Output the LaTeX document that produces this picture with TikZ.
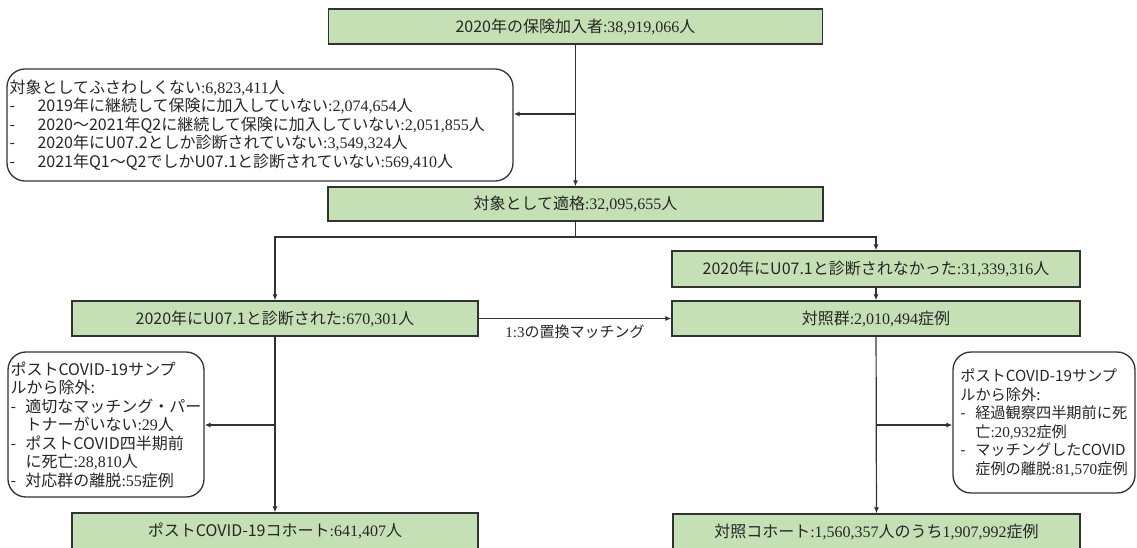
\documentclass[tikz,border=0pt]{standalone}
\usepackage{fontspec}
\setmainfont{Noto Sans CJK JP}
\newfontfamily\tmfont{Liberation Serif}
\usetikzlibrary{arrows.meta}
\definecolor{boxgreen}{RGB}{197,224,180}
\definecolor{ink}{RGB}{38,38,38}
\definecolor{edge}{RGB}{50,50,50}
\newcommand\tmn[1]{{\tmfont #1}}
\newcommand\itmA[1]{\makebox[28pt][l]{-}#1}
\newcommand\itmB[1]{\makebox[15pt][l]{-}#1}
\newcommand\contB[1]{\hspace*{15pt}#1}
\tikzset{
  gbox/.style={draw=edge, line width=1.3pt, fill=boxgreen, text=ink, inner sep=0pt,
    font=\fontsize{16}{19}\selectfont},
  xbox/.style={draw=edge, line width=1.3pt, rounded corners=18pt, fill=white, text=ink,
    align=left, inner sep=0pt, font=\fontsize{16}{18.5}\selectfont},
  arr/.style={draw=edge, line width=1.2pt, -{Latex[length=6pt,width=5pt]}},
  ln/.style={draw=edge, line width=1.2pt}
}
\begin{document}
\begin{tikzpicture}[x=1pt,y=-1pt]
\useasboundingbox (0,0) rectangle (1137,547);
% green boxes
\node[gbox, minimum width=494pt, minimum height=35pt] (top) at (575.5,26.5)
  {2020年の保険加入者\tmn{:38,919,066}人};
\node[gbox, minimum width=495pt, minimum height=34pt] (elig) at (575.5,204)
  {対象として適格\tmn{:32,095,655}人};
\node[gbox, minimum width=408pt, minimum height=36pt] (notdiag) at (876,269)
  {2020年にU07.1と診断されなかった\tmn{:31,339,316}人};
\node[gbox, minimum width=406pt, minimum height=35pt] (covid) at (275,318.5)
  {2020年にU07.1と診断された\tmn{:670,301}人};
\node[gbox, minimum width=408pt, minimum height=35pt] (ctrl) at (876,318.5)
  {対照群\tmn{:2,010,494}症例};
\node[gbox, minimum width=406pt, minimum height=36pt] (postc) at (275,531)
  {ポストCOVID-19コホート\tmn{:641,407}人};
\node[gbox, minimum width=407pt, minimum height=36pt] (ctrlc) at (876.5,532)
  {対照コホート\tmn{:1,560,357}人のうち\tmn{1,907,992}症例};
% exclusion boxes
\node[xbox, minimum width=506pt, minimum height=112pt, text width=501pt] (excl1) at (260,125)
  {対象としてふさわしくない\tmn{:6,823,411}人\\
   \itmA{2019年に継続して保険に加入していない\tmn{:2,074,654}人}\\
   \itmA{2020～2021年Q2に継続して保険に加入していない\tmn{:2,051,855}人}\\
   \itmA{2020年にU07.2としか診断されていない\tmn{:3,549,324}人}\\
   \itmA{2021年Q1～Q2でしかU07.1と診断されていない\tmn{:569,410}人}};
\node[xbox, minimum width=196pt, minimum height=145pt] (excl2) at (106,424.5)
  {ポストCOVID-19サンプ\\
   ルから除外:\\
   \itmB{適切なマッチング・パー}\\
   \contB{トナーがいない\tmn{:29}人}\\
   \itmB{ポストCOVID四半期前}\\
   \contB{に死亡\tmn{:28,810}人}\\
   \itmB{対応群の離脱\tmn{:55}症例}};
\node[xbox, minimum width=182pt, minimum height=141pt, font=\fontsize{15.2}{18.5}\selectfont] (excl3) at (1044,422.5)
  {ポストCOVID-19サンプ\\
   ルから除外:\\
   \itmB{経過観察四半期前に死}\\
   \contB{亡\tmn{:20,932}症例}\\
   \itmB{マッチングしたCOVID}\\
   \contB{症例の離脱\tmn{:81,570}症例}};
% connectors
\coordinate (b1) at (575.5,114);
\coordinate (split) at (575.5,237);
\coordinate (b2) at (275,425);
\coordinate (b3) at (876,425);
\draw[arr] (top) -- (elig);
\draw[arr] (b1) -- (b1 -| excl1.east);
\draw[ln] (elig.south) -- (split);
\draw[arr] (split) -| (covid.north);
\draw[arr] (split) -| (notdiag.north);
\draw[arr] (notdiag) -- (ctrl);
\draw[arr] (covid) -- node[below=6pt, text=ink, font=\fontsize{15}{18}\selectfont, inner sep=0pt] (lbl) {\tmn{1:3}の置換マッチング} (ctrl);
\draw[arr] (covid) -- (postc);
\draw[arr] (b2) -- (b2 -| excl2.east);
\draw[arr] (ctrl) -- (ctrlc);
\draw[arr] (b3) -- (b3 -| excl3.west);
\end{tikzpicture}
\end{document}
